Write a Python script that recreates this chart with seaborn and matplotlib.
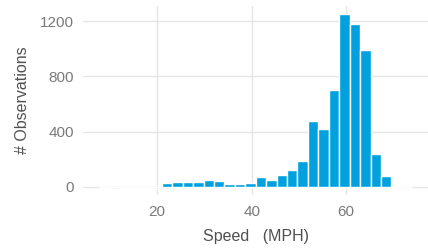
import numpy as np
import pandas as pd
import matplotlib
matplotlib.use("Agg")
import matplotlib.pyplot as plt
import seaborn as sns

# histogram counts for 30 equal-width speed bins (ggplot-style default bins)
speed_min = 8.8
speed_max = 72.9
bin_counts = [0, 0, 0, 0, 0, 0, 24, 34, 34, 34,
              45, 43, 20, 20, 25, 72, 47, 83, 122, 186,
              474, 419, 703, 1250, 1180, 990, 238, 76, 8, 0]
x_ticks = [20, 40, 60]
y_ticks = [0, 400, 800, 1200]

n_bins = len(bin_counts)
width = (speed_max - speed_min) / (n_bins - 1)
centers = speed_min + width * np.arange(n_bins)
edges = list(np.append(centers - width / 2, centers[-1] + width / 2))
df = pd.DataFrame({'speed': centers, 'count': bin_counts})

sns.set_style("white")
plt.rcParams['font.family'] = ['Liberation Sans', 'DejaVu Sans']

fig = plt.figure(figsize=(4.28, 2.48), dpi=100)
ax = fig.add_axes([0.195, 0.2125, 0.805, 0.7645])

sns.histplot(data=df, x='speed', weights='count', bins=edges, ax=ax,
             color='#00A1DE', edgecolor='white', linewidth=1.0, alpha=1)

lo, hi = edges[0], edges[-1]
pad = (hi - lo) * 0.05
ax.set_xlim(lo - pad, hi + pad)
ymax = max(bin_counts)
ax.set_ylim(-ymax * 0.05, ymax * 1.05)

ax.set_xticks(x_ticks)
ax.set_yticks(y_ticks)
ax.set_axisbelow(True)
ax.grid(True, color='#e6e6e6', linewidth=1.0)
for s in ax.spines.values():
    s.set_visible(False)
ax.tick_params(length=0, labelsize=11, labelcolor='#7a7a7a', pad=7)

ax.set_xlabel('Speed   (MPH)', fontsize=11.5, color='#505050', labelpad=7)
ax.set_ylabel('# Observations', fontsize=11.5, color='#505050', labelpad=7)

fig.savefig('out.png', dpi=100)
